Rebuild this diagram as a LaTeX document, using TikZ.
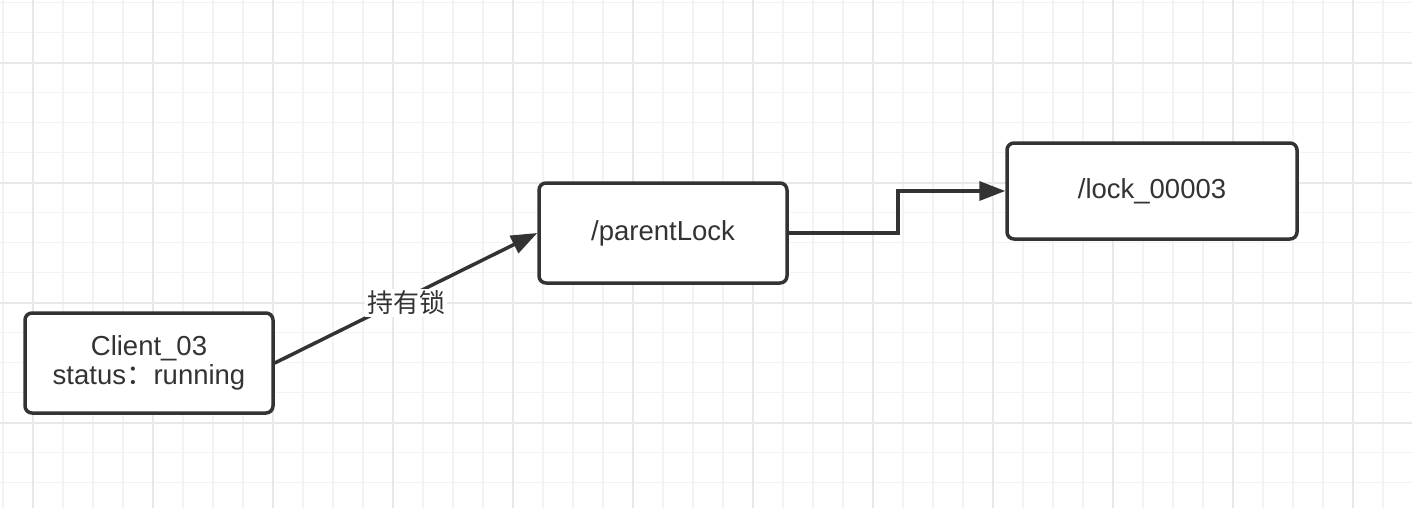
\documentclass[tikz,border=0pt]{standalone}
\usepackage{fontspec}
\setmainfont{Liberation Sans}
\newfontfamily\cjk{Noto Sans CJK SC}
\usetikzlibrary{arrows.meta}

\definecolor{gridminor}{HTML}{F3F3F3}
\definecolor{gridmajor}{HTML}{E8E8E8}
\definecolor{ink}{HTML}{333333}

\tikzset{
	lockbox/.style={draw=ink, text=ink, line width=3.5pt, rounded corners=7pt, fill=white, align=center, inner sep=0pt, font=\fontsize{27.5}{32.5}\selectfont},
	holdlink/.style={draw=ink, line width=3.5pt, -{Triangle[length=26pt,width=19pt]}}
}

\begin{document}
\begin{tikzpicture}[x=1pt, y=-1pt]
		\useasboundingbox [fill=white] (0,0) rectangle (1412,508);
		% grid
		\foreach \x in {0,...,46} {
			\draw [gridminor, line width=1.5pt] (3+30*\x,0) -- (3+30*\x,508);
		}
		\foreach \y in {0,...,16} {
			\draw [gridminor, line width=1.5pt] (0,2.7+30*\y) -- (1412,2.7+30*\y);
		}
		\foreach \x in {33,153,...,1353} {
			\draw [gridmajor, line width=2pt] (\x,0) -- (\x,508);
		}
		\foreach \y in {62.7,182.7,302.7,422.7} {
			\draw [gridmajor, line width=2pt] (0,\y) -- (1412,\y);
		}

		\node [lockbox, minimum width=248pt, minimum height=100pt] (client) at (149,363) {\raisebox{-3pt}{Client\_03}\\status{\cjk ：}running};
		\node [lockbox, minimum width=248pt, minimum height=100pt] (parent) at (663,233) {\raisebox{-3pt}{/parentLock}};
		\node [lockbox, minimum width=290pt, minimum height=96pt] (lock) at (1152,191) {\raisebox{-3pt}{/lock\_00003}};

		\draw [holdlink] (client.east) -- node [pos=.5, yshift=-5pt, fill=white, text=ink, inner sep=2pt, font=\fontsize{26}{30}\selectfont] (hold) {\cjk 持有锁} (parent.west);
		\draw [holdlink] (parent.east) -- ++(109,0) |- (lock.west);
	\end{tikzpicture}
\end{document}
